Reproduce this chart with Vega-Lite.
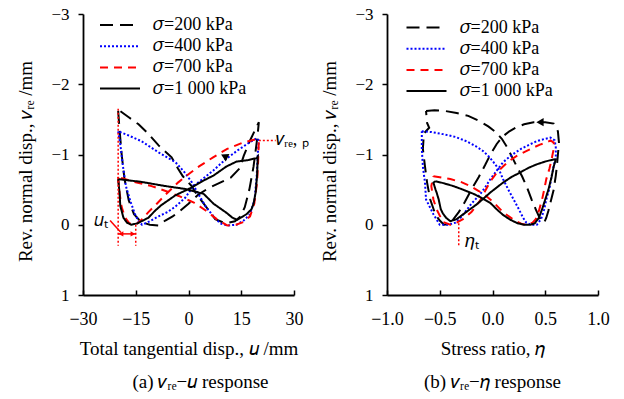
{
  "$schema": "https://vega.github.io/schema/vega-lite/v6.json",
  "padding": {"left": 16, "top": 5, "right": 5, "bottom": 2},
  "bounds": "flush",
  "spacing": 93,
  "config": {
    "view": {"stroke": null},
    "font": "Liberation Serif",
    "axis": {"domainColor": "black", "domainWidth": 1.8, "tickColor": "black", "tickWidth": 1.5, "labelColor": "black", "titleColor": "black", "labelFont": "Liberation Serif", "titleFont": "Liberation Serif", "labelFontSize": 17, "titleFontSize": 19, "titleFontWeight": "normal", "grid": false, "labelFlush": false},
    "legend": {"labelFont": "Liberation Serif", "labelFontSize": 18, "labelColor": "black", "padding": 0},
    "title": {"font": "Liberation Serif", "fontSize": 19, "fontWeight": "normal", "color": "black"},
    "text": {"font": "Liberation Serif", "fontSize": 18, "color": "black"}
  },
  "resolve": {"scale": {"color": "independent", "strokeDash": "independent", "x": "independent", "y": "independent"}, "legend": {"color": "independent", "strokeDash": "independent"}},
  "datasets": {
    "loopsU": [
      {"s":"200","o":1,"u":-20,"v":-1.62},{"s":"200","o":2,"u":-19.6,"v":-1.35},{"s":"200","o":3,"u":-19.0,"v":-1.0},{"s":"200","o":4,"u":-18.2,"v":-0.65},{"s":"200","o":5,"u":-17.0,"v":-0.35},{"s":"200","o":6,"u":-15.5,"v":-0.15},{"s":"200","o":7,"u":-13.5,"v":-0.04},{"s":"200","o":8,"u":-11,"v":0.0},{"s":"200","o":9,"u":-8.5,"v":0.01},{"s":"200","o":10,"u":-6.6,"v":-0.06},{"s":"200","o":11,"u":-4.5,"v":-0.12},{"s":"200","o":12,"u":-2.8,"v":-0.18},{"s":"200","o":13,"u":0,"v":-0.3},{"s":"200","o":14,"u":2.8,"v":-0.43},{"s":"200","o":15,"u":6,"v":-0.53},{"s":"200","o":16,"u":9,"v":-0.6},{"s":"200","o":17,"u":12,"v":-0.67},{"s":"200","o":18,"u":14.5,"v":-0.8},{"s":"200","o":19,"u":15.7,"v":-0.98},{"s":"200","o":20,"u":17.5,"v":-1.2},{"s":"200","o":21,"u":20,"v":-1.46},
      {"s":"200","o":22,"u":19.6,"v":-1.25},{"s":"200","o":23,"u":18.5,"v":-0.83},{"s":"200","o":24,"u":17.3,"v":-0.5},{"s":"200","o":25,"u":16,"v":-0.25},{"s":"200","o":26,"u":14.8,"v":-0.12},{"s":"200","o":27,"u":13.2,"v":-0.05},{"s":"200","o":28,"u":10.5,"v":-0.02},{"s":"200","o":29,"u":7.6,"v":-0.08},{"s":"200","o":30,"u":4.8,"v":-0.27},{"s":"200","o":31,"u":2.5,"v":-0.42},{"s":"200","o":32,"u":0.9,"v":-0.55},{"s":"200","o":33,"u":-1.6,"v":-0.69},{"s":"200","o":34,"u":-3,"v":-0.8},{"s":"200","o":35,"u":-4.8,"v":-0.96},{"s":"200","o":36,"u":-8.5,"v":-1.13},{"s":"200","o":37,"u":-11.5,"v":-1.3},{"s":"200","o":38,"u":-14.2,"v":-1.43},{"s":"200","o":39,"u":-17,"v":-1.53},{"s":"200","o":40,"u":-20,"v":-1.64},
      {"s":"400","o":1,"u":-20,"v":-1.33},{"s":"400","o":2,"u":-19.4,"v":-1.15},{"s":"400","o":3,"u":-18.7,"v":-0.85},{"s":"400","o":4,"u":-17.8,"v":-0.55},{"s":"400","o":5,"u":-16.5,"v":-0.33},{"s":"400","o":6,"u":-15.2,"v":-0.15},{"s":"400","o":7,"u":-14.2,"v":-0.05},{"s":"400","o":8,"u":-13.2,"v":0},{"s":"400","o":9,"u":-11,"v":-0.05},{"s":"400","o":10,"u":-8.5,"v":-0.12},{"s":"400","o":11,"u":-6,"v":-0.18},{"s":"400","o":12,"u":-3.7,"v":-0.26},{"s":"400","o":13,"u":-1,"v":-0.38},{"s":"400","o":14,"u":1.4,"v":-0.55},{"s":"400","o":15,"u":4,"v":-0.65},{"s":"400","o":16,"u":7,"v":-0.77},{"s":"400","o":17,"u":10.5,"v":-0.93},{"s":"400","o":18,"u":14,"v":-1.06},{"s":"400","o":19,"u":17,"v":-1.16},{"s":"400","o":20,"u":19.4,"v":-1.23},{"s":"400","o":21,"u":20,"v":-1.2},
      {"s":"400","o":22,"u":19.7,"v":-1.0},{"s":"400","o":23,"u":19.4,"v":-0.7},{"s":"400","o":24,"u":18.8,"v":-0.36},{"s":"400","o":25,"u":17.5,"v":-0.15},{"s":"400","o":26,"u":15.7,"v":-0.06},{"s":"400","o":27,"u":13.7,"v":0},{"s":"400","o":28,"u":11,"v":0.01},{"s":"400","o":29,"u":9,"v":-0.02},{"s":"400","o":30,"u":7.1,"v":-0.12},{"s":"400","o":31,"u":5,"v":-0.25},{"s":"400","o":32,"u":3,"v":-0.42},{"s":"400","o":33,"u":1,"v":-0.6},{"s":"400","o":34,"u":-1,"v":-0.74},{"s":"400","o":35,"u":-3.7,"v":-0.89},{"s":"400","o":36,"u":-8.5,"v":-1.03},{"s":"400","o":37,"u":-13.4,"v":-1.19},{"s":"400","o":38,"u":-17,"v":-1.27},{"s":"400","o":39,"u":-20,"v":-1.33},
      {"s":"700","o":1,"u":-20,"v":-0.68},{"s":"700","o":2,"u":-19.6,"v":-0.45},{"s":"700","o":3,"u":-19,"v":-0.25},{"s":"700","o":4,"u":-18,"v":-0.1},{"s":"700","o":5,"u":-16.8,"v":-0.02},{"s":"700","o":6,"u":-15,"v":0},{"s":"700","o":7,"u":-13.2,"v":-0.08},{"s":"700","o":8,"u":-11.4,"v":-0.18},{"s":"700","o":9,"u":-9,"v":-0.3},{"s":"700","o":10,"u":-6.5,"v":-0.43},{"s":"700","o":11,"u":-3,"v":-0.6},{"s":"700","o":12,"u":0,"v":-0.72},{"s":"700","o":13,"u":3,"v":-0.83},{"s":"700","o":14,"u":7,"v":-0.96},{"s":"700","o":15,"u":11,"v":-1.08},{"s":"700","o":16,"u":15.5,"v":-1.17},{"s":"700","o":17,"u":19.4,"v":-1.22},{"s":"700","o":18,"u":20,"v":-1.2},
      {"s":"700","o":19,"u":19.8,"v":-0.9},{"s":"700","o":20,"u":19.5,"v":-0.6},{"s":"700","o":21,"u":18.7,"v":-0.3},{"s":"700","o":22,"u":17.5,"v":-0.12},{"s":"700","o":23,"u":15.7,"v":-0.04},{"s":"700","o":24,"u":13.5,"v":0},{"s":"700","o":25,"u":11,"v":0.01},{"s":"700","o":26,"u":8,"v":-0.08},{"s":"700","o":27,"u":5,"v":-0.2},{"s":"700","o":28,"u":1.4,"v":-0.32},{"s":"700","o":29,"u":-2.8,"v":-0.41},{"s":"700","o":30,"u":-6.5,"v":-0.48},{"s":"700","o":31,"u":-10.5,"v":-0.55},{"s":"700","o":32,"u":-16.2,"v":-0.62},{"s":"700","o":33,"u":-20,"v":-0.68},
      {"s":"1 000","o":1,"u":-20,"v":-0.65},{"s":"1 000","o":2,"u":-19.6,"v":-0.45},{"s":"1 000","o":3,"u":-19.4,"v":-0.27},{"s":"1 000","o":4,"u":-18.5,"v":-0.1},{"s":"1 000","o":5,"u":-17.5,"v":-0.03},{"s":"1 000","o":6,"u":-16.3,"v":0},{"s":"1 000","o":7,"u":-14.5,"v":-0.02},{"s":"1 000","o":8,"u":-11.4,"v":-0.1},{"s":"1 000","o":9,"u":-9.5,"v":-0.2},{"s":"1 000","o":10,"u":-7.7,"v":-0.28},{"s":"1 000","o":11,"u":-3.7,"v":-0.42},{"s":"1 000","o":12,"u":0.9,"v":-0.53},{"s":"1 000","o":13,"u":4.3,"v":-0.63},{"s":"1 000","o":14,"u":7.1,"v":-0.7},{"s":"1 000","o":15,"u":10.8,"v":-0.83},{"s":"1 000","o":16,"u":13.7,"v":-0.9},{"s":"1 000","o":17,"u":17,"v":-0.92},{"s":"1 000","o":18,"u":19.4,"v":-0.95},{"s":"1 000","o":19,"u":19.7,"v":-0.97},
      {"s":"1 000","o":20,"u":19.5,"v":-0.7},{"s":"1 000","o":21,"u":19.1,"v":-0.46},{"s":"1 000","o":22,"u":18.5,"v":-0.3},{"s":"1 000","o":23,"u":17.9,"v":-0.22},{"s":"1 000","o":24,"u":16.5,"v":-0.15},{"s":"1 000","o":25,"u":14.8,"v":-0.1},{"s":"1 000","o":26,"u":13.8,"v":-0.07},{"s":"1 000","o":27,"u":12.5,"v":-0.1},{"s":"1 000","o":28,"u":10.8,"v":-0.17},{"s":"1 000","o":29,"u":7.1,"v":-0.3},{"s":"1 000","o":30,"u":4.3,"v":-0.44},{"s":"1 000","o":31,"u":2,"v":-0.47},{"s":"1 000","o":32,"u":-1,"v":-0.51},{"s":"1 000","o":33,"u":-6.5,"v":-0.55},{"s":"1 000","o":34,"u":-13.4,"v":-0.61},{"s":"1 000","o":35,"u":-20,"v":-0.65}
    ],
    "loopsE": [
      {"s":"200","o":1,"e":-0.63,"v":-1.62},{"s":"200","o":2,"e":-0.55,"v":-1.63},{"s":"200","o":3,"e":-0.45,"v":-1.62},{"s":"200","o":4,"e":-0.34,"v":-1.59},{"s":"200","o":5,"e":-0.23,"v":-1.55},{"s":"200","o":6,"e":-0.13,"v":-1.48},{"s":"200","o":7,"e":-0.04,"v":-1.40},{"s":"200","o":8,"e":0.03,"v":-1.32},{"s":"200","o":9,"e":0.09,"v":-1.22},{"s":"200","o":10,"e":0.14,"v":-1.1},{"s":"200","o":11,"e":0.18,"v":-0.98},{"s":"200","o":12,"e":0.23,"v":-0.83},{"s":"200","o":13,"e":0.28,"v":-0.69},{"s":"200","o":14,"e":0.33,"v":-0.52},{"s":"200","o":15,"e":0.37,"v":-0.36},{"s":"200","o":16,"e":0.41,"v":-0.22},{"s":"200","o":17,"e":0.44,"v":-0.12},{"s":"200","o":18,"e":0.47,"v":-0.04},{"s":"200","o":19,"e":0.49,"v":-0.03},{"s":"200","o":20,"e":0.51,"v":-0.1},{"s":"200","o":21,"e":0.53,"v":-0.2},{"s":"200","o":22,"e":0.55,"v":-0.32},{"s":"200","o":23,"e":0.58,"v":-0.5},{"s":"200","o":24,"e":0.6,"v":-0.7},{"s":"200","o":25,"e":0.61,"v":-0.83},{"s":"200","o":26,"e":0.62,"v":-1.0},{"s":"200","o":27,"e":0.63,"v":-1.17},{"s":"200","o":28,"e":0.62,"v":-1.33},{"s":"200","o":29,"e":0.58,"v":-1.44},{"s":"200","o":30,"e":0.5,"v":-1.46},{"s":"200","o":31,"e":0.39,"v":-1.46},{"s":"200","o":32,"e":0.3,"v":-1.43},{"s":"200","o":33,"e":0.23,"v":-1.39},{"s":"200","o":34,"e":0.16,"v":-1.33},{"s":"200","o":35,"e":0.1,"v":-1.26},{"s":"200","o":36,"e":0.04,"v":-1.15},{"s":"200","o":37,"e":-0.02,"v":-1.0},{"s":"200","o":38,"e":-0.07,"v":-0.85},{"s":"200","o":39,"e":-0.13,"v":-0.68},{"s":"200","o":40,"e":-0.2,"v":-0.5},{"s":"200","o":41,"e":-0.26,"v":-0.33},{"s":"200","o":42,"e":-0.32,"v":-0.18},{"s":"200","o":43,"e":-0.37,"v":-0.08},{"s":"200","o":44,"e":-0.42,"v":-0.01},{"s":"200","o":45,"e":-0.46,"v":0},{"s":"200","o":46,"e":-0.5,"v":-0.06},{"s":"200","o":47,"e":-0.54,"v":-0.14},{"s":"200","o":48,"e":-0.59,"v":-0.36},{"s":"200","o":49,"e":-0.62,"v":-0.6},{"s":"200","o":50,"e":-0.64,"v":-0.83},{"s":"200","o":51,"e":-0.66,"v":-1.08},{"s":"200","o":52,"e":-0.65,"v":-1.3},{"s":"200","o":53,"e":-0.6,"v":-1.38},{"s":"200","o":54,"e":-0.62,"v":-1.45},{"s":"200","o":55,"e":-0.63,"v":-1.62},
      {"s":"400","o":1,"e":-0.67,"v":-1.33},{"s":"400","o":2,"e":-0.58,"v":-1.32},{"s":"400","o":3,"e":-0.47,"v":-1.29},{"s":"400","o":4,"e":-0.35,"v":-1.25},{"s":"400","o":5,"e":-0.25,"v":-1.19},{"s":"400","o":6,"e":-0.16,"v":-1.12},{"s":"400","o":7,"e":-0.09,"v":-1.05},{"s":"400","o":8,"e":-0.04,"v":-0.98},{"s":"400","o":9,"e":0.01,"v":-0.89},{"s":"400","o":10,"e":0.06,"v":-0.79},{"s":"400","o":11,"e":0.1,"v":-0.65},{"s":"400","o":12,"e":0.15,"v":-0.5},{"s":"400","o":13,"e":0.2,"v":-0.36},{"s":"400","o":14,"e":0.25,"v":-0.22},{"s":"400","o":15,"e":0.29,"v":-0.1},{"s":"400","o":16,"e":0.32,"v":-0.03},{"s":"400","o":17,"e":0.37,"v":0},{"s":"400","o":18,"e":0.42,"v":0},{"s":"400","o":19,"e":0.46,"v":-0.08},{"s":"400","o":20,"e":0.49,"v":-0.22},{"s":"400","o":21,"e":0.51,"v":-0.36},{"s":"400","o":22,"e":0.54,"v":-0.52},{"s":"400","o":23,"e":0.56,"v":-0.69},{"s":"400","o":24,"e":0.58,"v":-0.83},{"s":"400","o":25,"e":0.6,"v":-0.96},{"s":"400","o":26,"e":0.6,"v":-1.1},{"s":"400","o":27,"e":0.59,"v":-1.2},{"s":"400","o":28,"e":0.55,"v":-1.24},{"s":"400","o":29,"e":0.49,"v":-1.22},{"s":"400","o":30,"e":0.42,"v":-1.19},{"s":"400","o":31,"e":0.35,"v":-1.14},{"s":"400","o":32,"e":0.27,"v":-1.08},{"s":"400","o":33,"e":0.18,"v":-0.99},{"s":"400","o":34,"e":0.1,"v":-0.89},{"s":"400","o":35,"e":0.04,"v":-0.77},{"s":"400","o":36,"e":-0.02,"v":-0.65},{"s":"400","o":37,"e":-0.07,"v":-0.53},{"s":"400","o":38,"e":-0.12,"v":-0.43},{"s":"400","o":39,"e":-0.2,"v":-0.3},{"s":"400","o":40,"e":-0.29,"v":-0.12},{"s":"400","o":41,"e":-0.35,"v":-0.03},{"s":"400","o":42,"e":-0.42,"v":0},{"s":"400","o":43,"e":-0.5,"v":0},{"s":"400","o":44,"e":-0.56,"v":-0.15},{"s":"400","o":45,"e":-0.63,"v":-0.36},{"s":"400","o":46,"e":-0.64,"v":-0.6},{"s":"400","o":47,"e":-0.66,"v":-0.83},{"s":"400","o":48,"e":-0.67,"v":-1.08},{"s":"400","o":49,"e":-0.67,"v":-1.33},
      {"s":"700","o":1,"e":-0.56,"v":-0.69},{"s":"700","o":2,"e":-0.48,"v":-0.67},{"s":"700","o":3,"e":-0.4,"v":-0.65},{"s":"700","o":4,"e":-0.3,"v":-0.61},{"s":"700","o":5,"e":-0.21,"v":-0.55},{"s":"700","o":6,"e":-0.13,"v":-0.48},{"s":"700","o":7,"e":-0.06,"v":-0.41},{"s":"700","o":8,"e":0.01,"v":-0.32},{"s":"700","o":9,"e":0.1,"v":-0.18},{"s":"700","o":10,"e":0.2,"v":-0.07},{"s":"700","o":11,"e":0.28,"v":-0.01},{"s":"700","o":12,"e":0.33,"v":0},{"s":"700","o":13,"e":0.38,"v":-0.03},{"s":"700","o":14,"e":0.41,"v":-0.08},{"s":"700","o":15,"e":0.44,"v":-0.2},{"s":"700","o":16,"e":0.47,"v":-0.36},{"s":"700","o":17,"e":0.49,"v":-0.5},{"s":"700","o":18,"e":0.51,"v":-0.65},{"s":"700","o":19,"e":0.54,"v":-0.8},{"s":"700","o":20,"e":0.56,"v":-0.93},{"s":"700","o":21,"e":0.58,"v":-1.08},{"s":"700","o":22,"e":0.58,"v":-1.17},{"s":"700","o":23,"e":0.55,"v":-1.2},{"s":"700","o":24,"e":0.51,"v":-1.17},{"s":"700","o":25,"e":0.45,"v":-1.14},{"s":"700","o":26,"e":0.39,"v":-1.1},{"s":"700","o":27,"e":0.31,"v":-1.04},{"s":"700","o":28,"e":0.23,"v":-0.98},{"s":"700","o":29,"e":0.16,"v":-0.91},{"s":"700","o":30,"e":0.1,"v":-0.83},{"s":"700","o":31,"e":0.04,"v":-0.74},{"s":"700","o":32,"e":-0.02,"v":-0.62},{"s":"700","o":33,"e":-0.07,"v":-0.48},{"s":"700","o":34,"e":-0.12,"v":-0.34},{"s":"700","o":35,"e":-0.2,"v":-0.18},{"s":"700","o":36,"e":-0.28,"v":-0.08},{"s":"700","o":37,"e":-0.34,"v":-0.03},{"s":"700","o":38,"e":-0.4,"v":0},{"s":"700","o":39,"e":-0.47,"v":-0.04},{"s":"700","o":40,"e":-0.53,"v":-0.22},{"s":"700","o":41,"e":-0.56,"v":-0.36},{"s":"700","o":42,"e":-0.58,"v":-0.55},{"s":"700","o":43,"e":-0.56,"v":-0.69},
      {"s":"1 000","o":1,"e":-0.54,"v":-0.62},{"s":"1 000","o":2,"e":-0.46,"v":-0.59},{"s":"1 000","o":3,"e":-0.37,"v":-0.55},{"s":"1 000","o":4,"e":-0.28,"v":-0.5},{"s":"1 000","o":5,"e":-0.18,"v":-0.44},{"s":"1 000","o":6,"e":-0.1,"v":-0.38},{"s":"1 000","o":7,"e":-0.02,"v":-0.31},{"s":"1 000","o":8,"e":0.04,"v":-0.22},{"s":"1 000","o":9,"e":0.1,"v":-0.14},{"s":"1 000","o":10,"e":0.17,"v":-0.07},{"s":"1 000","o":11,"e":0.24,"v":-0.02},{"s":"1 000","o":12,"e":0.3,"v":0},{"s":"1 000","o":13,"e":0.36,"v":0},{"s":"1 000","o":14,"e":0.4,"v":-0.02},{"s":"1 000","o":15,"e":0.44,"v":-0.1},{"s":"1 000","o":16,"e":0.47,"v":-0.22},{"s":"1 000","o":17,"e":0.5,"v":-0.36},{"s":"1 000","o":18,"e":0.53,"v":-0.5},{"s":"1 000","o":19,"e":0.56,"v":-0.68},{"s":"1 000","o":20,"e":0.58,"v":-0.83},{"s":"1 000","o":21,"e":0.6,"v":-0.93},{"s":"1 000","o":22,"e":0.58,"v":-0.93},{"s":"1 000","o":23,"e":0.5,"v":-0.9},{"s":"1 000","o":24,"e":0.42,"v":-0.86},{"s":"1 000","o":25,"e":0.34,"v":-0.81},{"s":"1 000","o":26,"e":0.27,"v":-0.75},{"s":"1 000","o":27,"e":0.18,"v":-0.68},{"s":"1 000","o":28,"e":0.1,"v":-0.6},{"s":"1 000","o":29,"e":0.04,"v":-0.53},{"s":"1 000","o":30,"e":-0.02,"v":-0.46},{"s":"1 000","o":31,"e":-0.08,"v":-0.38},{"s":"1 000","o":32,"e":-0.15,"v":-0.29},{"s":"1 000","o":33,"e":-0.25,"v":-0.18},{"s":"1 000","o":34,"e":-0.34,"v":-0.08},{"s":"1 000","o":35,"e":-0.4,"v":-0.05},{"s":"1 000","o":36,"e":-0.44,"v":-0.1},{"s":"1 000","o":37,"e":-0.47,"v":-0.16},{"s":"1 000","o":38,"e":-0.49,"v":-0.22},{"s":"1 000","o":39,"e":-0.51,"v":-0.36},{"s":"1 000","o":40,"e":-0.53,"v":-0.46},{"s":"1 000","o":41,"e":-0.54,"v":-0.5},{"s":"1 000","o":42,"e":-0.56,"v":-0.6},{"s":"1 000","o":43,"e":-0.54,"v":-0.62}
    ]
  },
  "hconcat": [
    {
      "width": 211,
      "height": 281,
      "title": {"text": "(a) 𝑣ᵣₑ−𝑢 response", "orient": "bottom", "anchor": "middle", "frame": "group", "offset": 15, "dx": 12},
      "layer": [
        {
          "data": {"name": "loopsU"},
          "mark": {"type": "line", "strokeWidth": 2},
          "encoding": {
            "x": {"field": "u", "type": "quantitative", "scale": {"domain": [-30, 30], "nice": false}, "axis": {"values": [-30, -15, 0, 15, 30], "title": "Total tangential disp., 𝑢 /mm", "tickSize": -5, "labelPadding": 20, "titlePadding": 11, "labelFontSize": 18, "labelExpr": "datum.value < 0 ? datum.label + '\u2002\u200a' : datum.label"}},
            "y": {"field": "v", "type": "quantitative", "scale": {"domain": [-3, 1], "nice": false, "reverse": true}, "axis": {"values": [-3, -2, -1, 0, 1], "format": "d", "title": "Rev. normal disp., 𝑣ᵣₑ /mm", "tickSize": 5, "labelPadding": 9, "titlePadding": 15, "titleY": 147}},
            "color": {"field": "s", "type": "nominal", "scale": {"domain": ["200", "400", "700", "1 000"], "range": ["#000000", "#0000ff", "#ff0000", "#000000"]}, "legend": {"title": null, "orient": "none", "legendX": 26, "legendY": 0, "labelExpr": "'𝜎=' + datum.label + ' kPa'", "symbolType": "M-2,0L2,0", "symbolSize": 400, "symbolStrokeWidth": 2, "labelOffset": 22, "rowPadding": 1.2}},
            "strokeDash": {"field": "s", "type": "nominal", "scale": {"domain": ["200", "400", "700", "1 000"], "range": [[13, 7], [2, 2], [8, 6], [1, 0]]}, "legend": {"title": null, "orient": "none", "legendX": 26, "legendY": 0, "labelExpr": "'𝜎=' + datum.label + ' kPa'", "symbolType": "M-2,0L2,0", "symbolSize": 400, "symbolStrokeWidth": 2, "labelOffset": 22, "rowPadding": 1.2}},
            "order": {"field": "o", "type": "quantitative"}
          }
        },
        {
          "data": {"values": [{"u": -20, "v": -1.65, "v2": 0.3}, {"u": -15, "v": 0, "v2": 0.3}]},
          "mark": {"type": "rule", "color": "#ff0000", "strokeDash": [2, 2], "strokeWidth": 1.5},
          "encoding": {"x": {"field": "u", "type": "quantitative"}, "y": {"field": "v", "type": "quantitative"}, "y2": {"field": "v2"}}
        },
        {
          "data": {"values": [{"u": 20, "u2": 24.8, "v": -1.2}]},
          "mark": {"type": "rule", "color": "#ff0000", "strokeDash": [2, 2], "strokeWidth": 1.5},
          "encoding": {"x": {"field": "u", "type": "quantitative"}, "x2": {"field": "u2"}, "y": {"field": "v", "type": "quantitative"}}
        },
        {
          "data": {"values": [{"u": -20, "u2": -15, "v": 0.13, "v2": 0.13}, {"u": -22.3, "u2": -19.2, "v": -0.06, "v2": 0.11}]},
          "mark": {"type": "rule", "color": "#ff0000", "strokeWidth": 1.5},
          "encoding": {"x": {"field": "u", "type": "quantitative"}, "x2": {"field": "u2"}, "y": {"field": "v", "type": "quantitative"}, "y2": {"field": "v2"}}
        },
        {
          "data": {"values": [{"u": -19.2, "v": 0.13}]},
          "mark": {"type": "point", "shape": "triangle-left", "filled": true, "color": "#ff0000", "size": 30, "opacity": 1},
          "encoding": {"x": {"field": "u", "type": "quantitative"}, "y": {"field": "v", "type": "quantitative"}}
        },
        {
          "data": {"values": [{"u": -15.8, "v": 0.13}]},
          "mark": {"type": "point", "shape": "triangle-right", "filled": true, "color": "#ff0000", "size": 30, "opacity": 1},
          "encoding": {"x": {"field": "u", "type": "quantitative"}, "y": {"field": "v", "type": "quantitative"}}
        },
        {
          "data": {"values": [{"u": 10.5, "v": -0.97}]},
          "mark": {"type": "point", "shape": "triangle", "filled": true, "color": "#000000", "size": 70, "angle": 56, "opacity": 1},
          "encoding": {"x": {"field": "u", "type": "quantitative"}, "y": {"field": "v", "type": "quantitative"}}
        },
        {
          "data": {"values": [{"u": -27, "v": -0.05, "t": "𝑢ₜ"}, {"u": 24.9, "v": -1.2, "t": "𝑣ᵣₑ, ₚ"}]},
          "mark": {"type": "text", "align": "left", "baseline": "middle", "fontSize": 18},
          "encoding": {"x": {"field": "u", "type": "quantitative"}, "y": {"field": "v", "type": "quantitative"}, "text": {"field": "t"}}
        }
      ]
    },
    {
      "width": 211,
      "height": 281,
      "title": {"text": "(b) 𝑣ᵣₑ−𝜂 response", "orient": "bottom", "anchor": "middle", "frame": "group", "offset": 15},
      "layer": [
        {
          "data": {"name": "loopsE"},
          "mark": {"type": "line", "strokeWidth": 2},
          "encoding": {
            "x": {"field": "e", "type": "quantitative", "scale": {"domain": [-1, 1], "nice": false}, "axis": {"values": [-1, -0.5, 0, 0.5, 1], "format": ".1f", "title": "Stress ratio, 𝜂", "tickSize": -5, "labelPadding": 20, "titlePadding": 11, "labelFontSize": 18, "labelExpr": "datum.value < 0 ? datum.label + '\u2002' : datum.label"}},
            "y": {"field": "v", "type": "quantitative", "scale": {"domain": [-3, 1], "nice": false, "reverse": true}, "axis": {"values": [-3, -2, -1, 0, 1], "format": "d", "title": "Rev. normal disp., 𝑣ᵣₑ /mm", "tickSize": 5, "labelPadding": 9, "titlePadding": 15, "titleY": 147}},
            "color": {"field": "s", "type": "nominal", "scale": {"domain": ["200", "400", "700", "1 000"], "range": ["#000000", "#0000ff", "#ff0000", "#000000"]}, "legend": {"title": null, "orient": "none", "legendX": 28.5, "legendY": 2.5, "labelExpr": "'𝜎=' + datum.label + ' kPa'", "symbolType": "M-2,0L2,0", "symbolSize": 400, "symbolStrokeWidth": 2, "labelOffset": 22, "rowPadding": 1.2}},
            "strokeDash": {"field": "s", "type": "nominal", "scale": {"domain": ["200", "400", "700", "1 000"], "range": [[13, 7], [2, 2], [8, 6], [1, 0]]}, "legend": {"title": null, "orient": "none", "legendX": 28.5, "legendY": 2.5, "labelExpr": "'𝜎=' + datum.label + ' kPa'", "symbolType": "M-2,0L2,0", "symbolSize": 400, "symbolStrokeWidth": 2, "labelOffset": 22, "rowPadding": 1.2}},
            "order": {"field": "o", "type": "quantitative"}
          }
        },
        {
          "data": {"values": [{"e": -0.32, "v": -0.02, "v2": 0.3}]},
          "mark": {"type": "rule", "color": "#ff0000", "strokeDash": [2, 2], "strokeWidth": 1.5},
          "encoding": {"x": {"field": "e", "type": "quantitative"}, "y": {"field": "v", "type": "quantitative"}, "y2": {"field": "v2"}}
        },
        {
          "data": {"values": [{"e": 0.45, "v": -1.46}]},
          "mark": {"type": "point", "shape": "triangle-left", "filled": true, "color": "#000000", "size": 70, "opacity": 1},
          "encoding": {"x": {"field": "e", "type": "quantitative"}, "y": {"field": "v", "type": "quantitative"}}
        },
        {
          "data": {"values": [{"e": -0.26, "v": 0.25, "t": "𝜂ₜ"}]},
          "mark": {"type": "text", "align": "left", "baseline": "middle", "fontSize": 18},
          "encoding": {"x": {"field": "e", "type": "quantitative"}, "y": {"field": "v", "type": "quantitative"}, "text": {"field": "t"}}
        }
      ]
    }
  ]
}
